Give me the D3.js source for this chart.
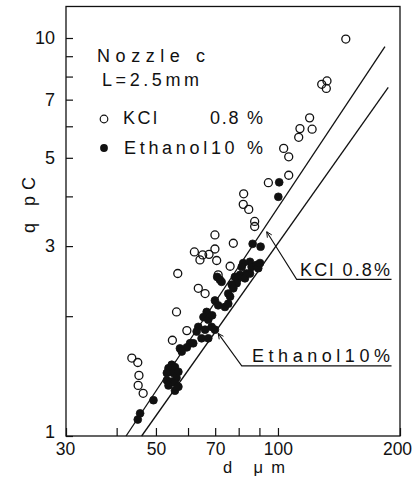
<!DOCTYPE html>
<html>
<head>
<meta charset="utf-8">
<script src="https://cdn.jsdelivr.net/npm/d3@7"></script>
<style>
  html, body { margin: 0; padding: 0; background: #fff; }
  svg { display: block; }
  text { font-family: "Liberation Sans", Arial, sans-serif; fill: #111; }
</style>
</head>
<body>
<svg id="chart" width="413" height="477"></svg>
<script>
// ---- data ----
const xMajorTicks = [30, 50, 70, 100, 200];
const xMinorTicks = [40, 60, 80, 90];
const yMajorTicks = [1, 3, 5, 7, 10];
const yMinorTicks = [2, 4, 6, 8, 9];

// KCl 0.8 % (open circles): [d µm, q pC]
const kclPoints = [
  [147, 9.94], [128.2, 7.65], [132.1, 7.8], [131.6, 7.47],
  [119.7, 6.3], [113.3, 5.92], [121.4, 5.9], [112.5, 5.63],
  [103.3, 5.28], [106.3, 5.03], [106.3, 4.52], [94.7, 4.33],
  [82.3, 4.06], [82.1, 3.82], [84.7, 3.71], [87.6, 3.46], [87.6, 3.36],
  [69.9, 3.2], [77.6, 3.05], [69.9, 2.95], [62.2, 2.9], [65.2, 2.85],
  [64.2, 2.77], [67.6, 2.86], [70.6, 2.76], [76.2, 2.67], [56.6, 2.56],
  [71.2, 2.54], [63.6, 2.35], [66.1, 2.28], [56.2, 2.05], [59.6, 1.84],
  [54.9, 1.74], [43.6, 1.57], [45.1, 1.53], [45.4, 1.42], [45.2, 1.34],
  [46.5, 1.28]
];

// Ethanol 10 % (filled circles): [d µm, q pC]
const ethanolPoints = [
  [100.7, 4.34], [100.2, 3.99],
  [86.6, 3.04], [90.6, 2.99],
  [82.1, 2.72], [81.4, 2.66], [85.3, 2.74], [86.1, 2.66], [88.6, 2.69],
  [89.4, 2.64], [90.3, 2.72], [80.6, 2.54], [79.8, 2.49], [79.1, 2.42],
  [83.7, 2.56], [82.9, 2.49], [85.3, 2.56], [78.3, 2.51],
  [76.9, 2.40], [77.6, 2.35], [75.4, 2.28], [76.2, 2.24],
  [70.8, 2.51], [71.9, 2.47], [72.6, 2.44],
  [69.9, 2.19], [71.2, 2.13], [74.0, 2.11], [75.4, 2.15],
  [66.7, 2.05], [65.5, 1.99], [67.3, 1.96], [68.6, 1.88], [66.1, 1.85],
  [69.9, 1.85], [63.6, 1.88], [63.0, 1.83], [64.8, 1.76], [67.3, 1.76],
  [68.8, 2.01],
  [60.7, 1.71], [59.6, 1.67], [61.8, 1.71], [57.3, 1.66], [57.9, 1.63],
  [54.7, 1.51], [53.7, 1.48], [55.7, 1.49], [53.2, 1.44], [55.2, 1.44],
  [56.8, 1.45], [53.2, 1.38], [54.7, 1.37], [56.2, 1.40], [53.7, 1.34],
  [55.7, 1.36], [55.7, 1.30], [56.8, 1.33],
  [49.3, 1.23], [45.7, 1.14], [45.1, 1.10]
];

// fitted lines: [d, q] endpoints
const kclLine = [[42.2, 1.0], [183.6, 9.51]];
const ethanolLine = [[46.1, 1.0], [187.1, 7.52]];

// annotation leaders: tip, elbow, end of underline (data space)
const kclLeader = [[93.8, 3.26], [111.2, 2.475], [190.6, 2.475]];
const ethanolLeader = [[71.2, 1.81], [81.4, 1.50], [190.6, 1.50]];

// ---- drawing ----
const svg = d3.select("#chart");
const x = d3.scaleLog().domain([30, 200]).range([66, 400]);
const y = d3.scaleLog().domain([1, 10]).range([436, 38]);
const yTop = y(12);

const ink = "#111";

// frame
svg.append("rect")
  .attr("x", x(30)).attr("y", yTop)
  .attr("width", x(200) - x(30)).attr("height", y(1) - yTop)
  .attr("fill", "none").attr("stroke", ink).attr("stroke-width", 1.3);

// x axis
const xAxis = d3.axisBottom(x)
  .tickValues(xMajorTicks.concat(xMinorTicks))
  .tickSize(-8).tickPadding(7)
  .tickFormat(d => xMajorTicks.includes(d) ? String(d) : "");
const gx = svg.append("g").attr("transform", `translate(0,${y(1)})`).call(xAxis);
gx.select(".domain").remove();
gx.selectAll("line").attr("stroke", ink).attr("stroke-width", 1.2);
gx.selectAll("text").attr("font-size", 17.5).style("font-family", "Liberation Sans, Arial, sans-serif").attr("fill", ink);
gx.selectAll(".tick").filter(d => d === 200).select("text").attr("dx", -3);
gx.selectAll(".tick").filter(d => d === 30).select("text").attr("dx", -1);

// y axis
const yAxis = d3.axisLeft(y)
  .tickValues(yMajorTicks.concat(yMinorTicks))
  .tickSize(-7).tickPadding(11)
  .tickFormat(d => yMajorTicks.includes(d) ? String(d) : "");
const gy = svg.append("g").attr("transform", `translate(${x(30)},0)`).call(yAxis);
gy.select(".domain").remove();
gy.selectAll("line").attr("stroke", ink).attr("stroke-width", 1.2);
gy.selectAll("text").attr("font-size", 18).style("font-family", "Liberation Sans, Arial, sans-serif").attr("fill", ink);
gy.selectAll(".tick").filter(d => d === 1).select("text").attr("dy", "0.1em");

// axis titles
svg.append("text")
  .attr("transform", "translate(35,205) rotate(-90)")
  .attr("text-anchor", "middle").attr("font-size", 18)
  .attr("textLength", 56).attr("lengthAdjust", "spacing")
  .text("q pC");
svg.append("text")
  .attr("x", 254).attr("y", 473.3)
  .attr("text-anchor", "middle").attr("font-size", 16.5)
  .attr("textLength", 62).attr("lengthAdjust", "spacing")
  .text("d μm");

// fitted lines
const line = d3.line().x(d => x(d[0])).y(d => y(d[1]));
[kclLine, ethanolLine].forEach(l => {
  svg.append("path").attr("d", line(l))
    .attr("fill", "none").attr("stroke", ink).attr("stroke-width", 1.3);
});

// points
svg.append("g").selectAll("circle").data(kclPoints).join("circle")
  .attr("cx", d => x(d[0])).attr("cy", d => y(d[1])).attr("r", 4)
  .attr("fill", "none").attr("stroke", ink).attr("stroke-width", 1.3);
svg.append("g").selectAll("circle").data(ethanolPoints).join("circle")
  .attr("cx", d => x(d[0])).attr("cy", d => y(d[1])).attr("r", 3.9)
  .attr("fill", ink).attr("stroke", ink).attr("stroke-width", 0.8);

// legend
svg.append("text").attr("x", 97).attr("y", 62).attr("font-size", 18)
  .attr("textLength", 108).attr("lengthAdjust", "spacing").text("Nozzle c");
svg.append("text").attr("x", 102).attr("y", 86).attr("font-size", 18)
  .attr("textLength", 97).attr("lengthAdjust", "spacing").text("L=2.5mm");
svg.append("circle").attr("cx", 104).attr("cy", 119).attr("r", 3.8)
  .attr("fill", "none").attr("stroke", ink).attr("stroke-width", 1.2);
svg.append("text").attr("x", 123).attr("y", 124).attr("font-size", 18)
  .attr("textLength", 34).attr("lengthAdjust", "spacing").text("KCl");
svg.append("text").attr("x", 210).attr("y", 124).attr("font-size", 18)
  .attr("textLength", 53).attr("lengthAdjust", "spacing").text("0.8 %");
svg.append("circle").attr("cx", 104).attr("cy", 148).attr("r", 3.9)
  .attr("fill", ink);
svg.append("text").attr("x", 124).attr("y", 154).attr("font-size", 18)
  .attr("textLength", 139).attr("lengthAdjust", "spacing").text("Ethanol10 %");

// annotations
function leader(pts, label, textX, textLen) {
  const p = pts.map(d => [x(d[0]), y(d[1])]);
  svg.append("path").attr("d", d3.line()(p))
    .attr("fill", "none").attr("stroke", ink).attr("stroke-width", 1.1);
  const [tx, ty] = p[0], [ex, ey] = p[1];
  const ang = Math.atan2(ey - ty, ex - tx);
  const L = 6, a = 0.45;
  const h1 = [tx + L * Math.cos(ang + a), ty + L * Math.sin(ang + a)];
  const h2 = [tx + L * Math.cos(ang - a), ty + L * Math.sin(ang - a)];
  svg.append("path").attr("d", d3.line()([h1, [tx, ty], h2]))
    .attr("fill", "none").attr("stroke", ink).attr("stroke-width", 1);
  svg.append("text").attr("x", textX).attr("y", p[1][1] - 3.5).attr("font-size", 18)
    .attr("textLength", textLen).attr("lengthAdjust", "spacing").text(label);
}
leader(kclLeader, "KCl 0.8%", 300, 90);
leader(ethanolLeader, "Ethanol10%", 252, 138);
</script>
</body>
</html>
